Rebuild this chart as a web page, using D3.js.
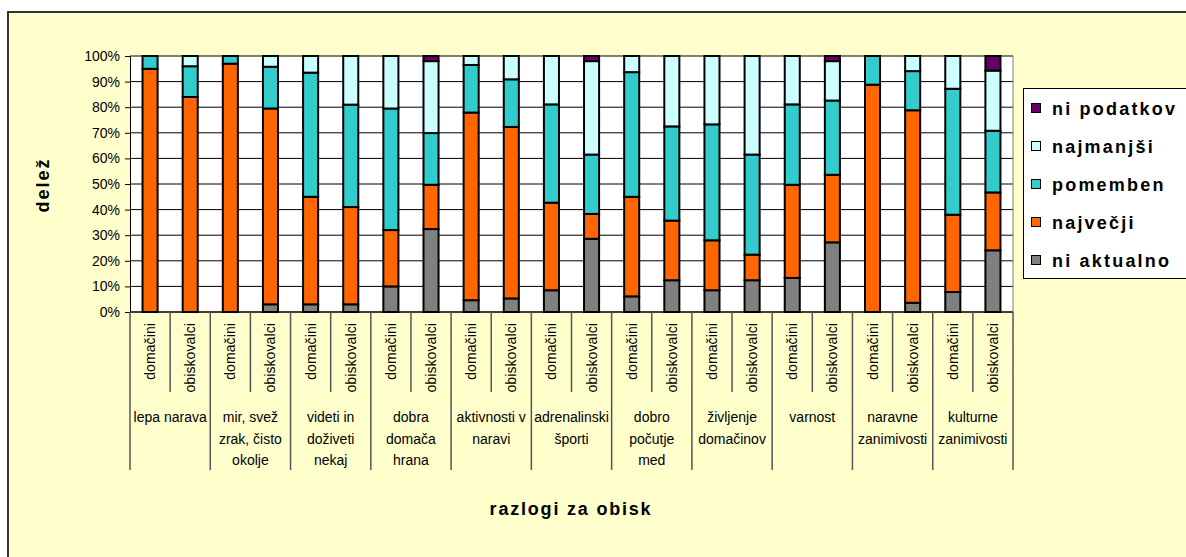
<!DOCTYPE html>
<html><head><meta charset="utf-8">
<script src="https://cdn.jsdelivr.net/npm/d3@7"></script>
<style>
html,body{margin:0;padding:0;background:#fff;}
svg{display:block;font-family:"Liberation Sans",Arial,sans-serif;}
</style></head>
<body>
<svg id="c" width="1186" height="557"></svg>
<script>
const groups = [
  ["lepa narava"],
  ["mir, svež", "zrak, čisto", "okolje"],
  ["videti in", "doživeti", "nekaj"],
  ["dobra", "domača", "hrana"],
  ["aktivnosti v", "naravi"],
  ["adrenalinski", "športi"],
  ["dobro", "počutje", "med"],
  ["življenje", "domačinov"],
  ["varnost"],
  ["naravne", "zanimivosti"],
  ["kulturne", "zanimivosti"]
];
const subgroups = ["domačini", "obiskovalci"];
const seriesNames = ["ni aktualno", "največji", "pomemben", "najmanjši", "ni podatkov"];
const niAktualno = [0, 0, 0, 3, 3, 3, 10, 32.4, 4.6, 5.3, 8.5, 28.6, 6.1, 12.4, 8.5, 12.4, 13.3, 27.2, 0, 3.6, 7.8, 24.1];
const najvecji   = [95, 84, 97, 76.5, 42, 38, 22, 17.3, 73.3, 67, 34.2, 9.7, 38.9, 23.3, 19.5, 10, 36.4, 26.4, 88.8, 75.2, 30.2, 22.6];
const pomemben   = [5, 12, 3, 16.3, 48.5, 40, 47.5, 20.2, 18.6, 18.6, 38.4, 23.2, 48.7, 36.8, 45.3, 39.1, 31.4, 29, 11.2, 15.3, 49.2, 24.1];
const najmanjsi  = [0, 4, 0, 4.2, 6.5, 19, 20.5, 28.1, 3.5, 9.1, 18.9, 36.5, 6.3, 27.5, 26.7, 38.5, 18.9, 15.4, 0, 5.9, 12.8, 23.5];
const niPodatkov = [0, 0, 0, 0, 0, 0, 0, 2, 0, 0, 0, 2, 0, 0, 0, 0, 0, 2, 0, 0, 0, 5.7];
const yTicks = [0, 10, 20, 30, 40, 50, 60, 70, 80, 90, 100];
const colors = ["#808080", "#FF6600", "#33CCCC", "#CCFFFF", "#660066"];

const seriesArrays = [niAktualno, najvecji, pomemben, najmanjsi, niPodatkov];
const rows = [];
groups.forEach((g, gi) => subgroups.forEach((s, si) => {
  const i = gi * 2 + si;
  const r = {id: i, group: gi, sub: s};
  seriesNames.forEach((n, k) => r[n] = seriesArrays[k][i]);
  rows.push(r);
}));

const svg = d3.select("#c");
svg.append("rect").attr("x", 8).attr("y", 12).attr("width", 1200).attr("height", 600)
  .attr("fill", "#FFFFCC").attr("stroke", "#333").attr("stroke-width", 2);

const L = 130, R = 1013, T = 56, B = 312;
const x = d3.scaleBand().domain(rows.map(d => d.id)).range([L, R]).paddingInner(0.625).paddingOuter(0.3125);
const y = d3.scaleLinear().domain([0, 100]).range([B, T]);

svg.append("rect").attr("x", L).attr("y", T).attr("width", R - L).attr("height", B - T).attr("fill", "#fff");

svg.append("g").selectAll("line").data(yTicks).join("line")
  .attr("x1", L).attr("x2", R).attr("y1", d => y(d)).attr("y2", d => y(d))
  .attr("stroke", "#000").attr("stroke-width", 1);
svg.append("line").attr("x1", R).attr("x2", R).attr("y1", T).attr("y2", B).attr("stroke", "#808080");

const yAxis = d3.axisLeft(y).tickValues(yTicks).tickFormat(d => d + "%").tickSize(5).tickPadding(5);
const ga = svg.append("g").attr("transform", `translate(${L},0)`).call(yAxis);
ga.select(".domain").attr("stroke", "#000");
ga.selectAll(".tick line").attr("stroke", "#000");
ga.selectAll("text").attr("font-size", 14).attr("fill", "#000").attr("font-family", "Liberation Sans, Arial");

const stack = d3.stack().keys(seriesNames)(rows);
svg.append("g").selectAll("g").data(stack).join("g")
  .attr("fill", (d, i) => colors[i])
  .selectAll("rect").data(d => d.filter(p => p[1] - p[0] > 0)).join("rect")
  .attr("x", d => x(d.data.id)).attr("width", x.bandwidth())
  .attr("y", d => y(d[1])).attr("height", d => y(d[0]) - y(d[1]))
  .attr("stroke", "#000").attr("stroke-width", 2);

svg.append("line").attr("x1", L).attr("x2", R).attr("y1", B).attr("y2", B).attr("stroke", "#000");

const step = x.step();
const sepG = svg.append("g").attr("stroke", "#555").attr("stroke-width", 1.5);
for (let i = 0; i <= rows.length; i++) {
  const xx = L + i * step;
  const long = i % 2 === 0;
  sepG.append("line").attr("x1", xx).attr("x2", xx).attr("y1", B).attr("y2", long ? 470 : 392);
}

svg.append("g").selectAll("text").data(rows).join("text")
  .attr("transform", d => `translate(${x(d.id) + x.bandwidth() / 2 + 5},323) rotate(-90)`)
  .attr("text-anchor", "end").attr("font-size", 14).attr("letter-spacing", 0.1)
  .text(d => d.sub);

const gl = svg.append("g").selectAll("text").data(groups).join("text")
  .attr("x", (d, i) => L + (i * 2 + 1) * step).attr("y", 422)
  .attr("text-anchor", "middle").attr("font-size", 14);
gl.selectAll("tspan").data(d => d).join("tspan")
  .attr("x", function () { return this.parentNode.getAttribute("x"); })
  .attr("dy", (d, i) => i === 0 ? 0 : 21.7)
  .text(d => d);

svg.append("text").attr("x", 571).attr("y", 515).attr("text-anchor", "middle")
  .attr("font-size", 18).attr("font-weight", "bold").attr("letter-spacing", 1.8).text("razlogi za obisk");
svg.append("text").attr("transform", "translate(49,185) rotate(-90)").attr("text-anchor", "middle")
  .attr("font-size", 18).attr("font-weight", "bold").attr("letter-spacing", 2).text("delež");

svg.append("rect").attr("x", 1023.5).attr("y", 88.5).attr("width", 180).attr("height", 190)
  .attr("fill", "#fff").attr("stroke", "#000");
const legendOrder = [4, 3, 2, 1, 0];
const lg = svg.append("g").selectAll("g").data(legendOrder).join("g")
  .attr("transform", (d, i) => `translate(1031,${108 + i * 38})`);
lg.append("rect").attr("x", 0.5).attr("y", -4.5).attr("width", 9).attr("height", 9)
  .attr("fill", d => colors[d]).attr("stroke", "#000");
lg.append("text").attr("x", 21).attr("y", 6.5).attr("font-size", 18).attr("font-weight", "bold")
  .attr("letter-spacing", 2.2).text(d => seriesNames[d]);
</script>
</body></html>
